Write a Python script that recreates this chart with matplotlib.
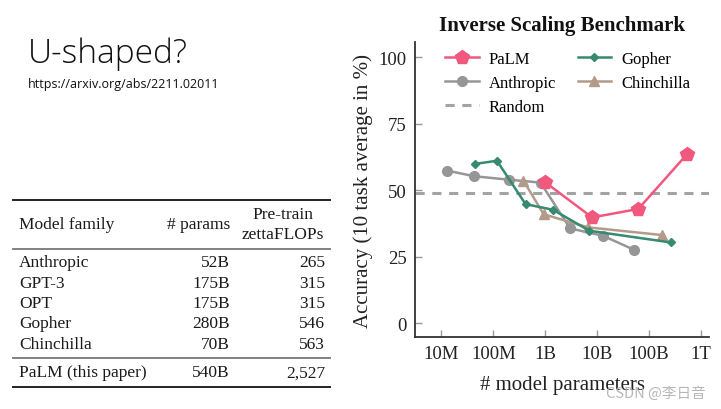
import matplotlib.pyplot as plt

# chart data (parameter count, accuracy in %)
palm_x = [1.0e9, 8.0e9, 62e9, 540e9]
palm_y = [53.0, 39.8, 43.0, 63.6]
anthropic_x = [13e6, 42e6, 197e6, 810e6, 3.0e9, 13e9, 52e9]
anthropic_y = [57.4, 55.3, 54.0, 52.9, 35.7, 32.9, 27.6]
gopher_x = [44e6, 117e6, 417e6, 1.4e9, 7.1e9, 265e9]
gopher_y = [59.9, 61.1, 44.8, 42.7, 34.8, 30.4]
chinchilla_x = [380e6, 930e6, 6.6e9, 175e9]
chinchilla_y = [53.6, 41.0, 36.1, 33.2]
random_y = 48.9

x_ticks = [1e7, 1e8, 1e9, 1e10, 1e11, 1e12]
x_ticklabels = ['10M', '100M', '1B', '10B', '100B', '1T']
y_ticks = [0, 25, 50, 75, 100]

# table data
families = ['Anthropic', 'GPT-3', 'OPT', 'Gopher', 'Chinchilla']
params = ['52B', '175B', '175B', '280B', '70B']
flops = ['265', '315', '315', '546', '563']
palm_row = ['PaLM (this paper)', '540B', '2,527']

SERIF = 'Liberation Serif'
C_PALM = '#f0587e'
C_ANTH = '#969696'
C_GOPH = '#358a70'
C_CHIN = '#b39b8b'

fig = plt.figure(figsize=(7.21, 4.10), dpi=100)

# ---- left side of the slide (pixel coordinates) ----
bg = fig.add_axes([0, 0, 1, 1])
bg.set_xlim(0, 721)
bg.set_ylim(410, 0)
bg.axis('off')

bg.text(28, 63, 'U-shaped?', fontsize=24, family='Open Sans', fontweight='light',
        va='baseline', ha='left', color='#111111')
bg.text(28, 88, 'https://arxiv.org/abs/2211.02011', fontsize=9, family='Open Sans',
        va='baseline', ha='left', color='#111111')

tfont = dict(family=SERIF, fontsize=12.5, color='#1a1a1a', va='center')
bg.plot([13, 330], [200.7, 200.7], color='#222222', lw=1.4)
bg.plot([13, 330], [250, 250], color='#777777', lw=1.3)
bg.plot([13, 330], [359, 359], color='#777777', lw=1.3)
bg.plot([13, 330], [388.3, 388.3], color='#222222', lw=1.4)

bg.text(19, 225, 'Model family', ha='left', **tfont)
bg.text(230, 225, '# params', ha='right', **tfont)
bg.text(283, 215, 'Pre-train', ha='center', **tfont)
bg.text(283, 235, 'zettaFLOPs', ha='center', **tfont)
for i, (fam, p, f) in enumerate(zip(families, params, flops)):
    y = 263.3 + i * 20.35
    bg.text(19, y, fam, ha='left', **tfont)
    bg.text(230, y, p, ha='right', **tfont)
    bg.text(325, y, f, ha='right', **tfont)
bg.text(19, 373.3, palm_row[0], ha='left', **tfont)
bg.text(230, 373.3, palm_row[1], ha='right', **tfont)
bg.text(325, 373.3, palm_row[2], ha='right', **tfont)

# ---- chart ----
ax = fig.add_axes([0.5756, 0.1763, 0.4082, 0.7181])
ax.axhline(random_y, color='#a3a3a3', lw=2.2, ls=(0, (3, 2.5)), label='Random', zorder=1)
ax.plot(anthropic_x, anthropic_y, color=C_ANTH, lw=1.8, marker='o', ms=7,
        label='Anthropic', zorder=2)
ax.plot(chinchilla_x, chinchilla_y, color=C_CHIN, lw=1.8, marker='^', ms=7,
        label='Chinchilla', zorder=3)
ax.plot(gopher_x, gopher_y, color=C_GOPH, lw=1.8, marker='D', ms=4.5,
        label='Gopher', zorder=4)
ax.plot(palm_x, palm_y, color=C_PALM, lw=1.8, marker='p', ms=10,
        label='PaLM', zorder=5)

ax.set_xscale('log')
ax.set_xlim(10 ** 6.49, 10 ** 12.16)
ax.set_ylim(-5, 105.6)
ax.set_xticks(x_ticks)
ax.set_xticklabels(x_ticklabels)
ax.set_yticks(y_ticks)
for s in ['top', 'right']:
    ax.spines[s].set_visible(False)
for s in ['left', 'bottom']:
    ax.spines[s].set_color('#333333')
    ax.spines[s].set_linewidth(1.3)
ax.tick_params(which='major', direction='in', length=5, width=1, color='#999999',
               labelsize=13.5, pad=6)
ax.tick_params(which='minor', direction='in', length=3, width=0.8, color='#999999')
ax.tick_params(axis='y', which='minor', length=0)
for lab in ax.get_xticklabels() + ax.get_yticklabels():
    lab.set_family(SERIF)
    lab.set_color('#222222')

ax.set_title('Inverse Scaling Benchmark', family=SERIF, fontweight='bold',
             fontsize=15, color='#111111', pad=9)
ax.set_ylabel('Accuracy (10 task average in %)', family=SERIF, fontsize=15,
              color='#222222', labelpad=4)
ax.set_xlabel('# model parameters', family=SERIF, fontsize=15, color='#222222',
              labelpad=9)

h, l = ax.get_legend_handles_labels()
order = [l.index(n) for n in ['PaLM', 'Anthropic', 'Random', 'Gopher', 'Chinchilla']]
ax.legend([h[i] for i in order], [l[i] for i in order], ncol=2, frameon=False,
          loc='upper left', bbox_to_anchor=(0.075, 1.0), borderpad=0,
          handlelength=2.0, columnspacing=1.3, labelspacing=0.5,
          prop={'family': SERIF, 'size': 12}, handletextpad=0.6)

fig.text(606 / 721, 1 - 398 / 410, 'CSDN @李日音', family=['Noto Sans CJK SC', 'DejaVu Sans'],
         fontsize=10.5, color='#b0b0b0', alpha=0.9, va='baseline', ha='left')

fig.savefig('out.png', dpi=100)
